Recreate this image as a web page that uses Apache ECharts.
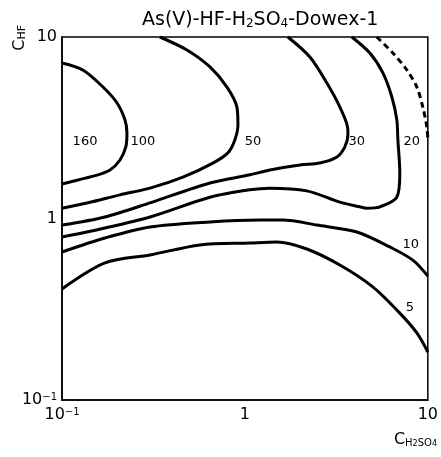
<!DOCTYPE html>
<html>
<head>
<meta charset="utf-8">
<script src="https://cdn.jsdelivr.net/npm/echarts@6/dist/echarts.min.js"></script>
<style>
  html, body { margin: 0; padding: 0; background: #fff; }
  #chart { width: 441px; height: 457px; }
</style>
</head>
<body>
<div id="chart"></div>
<script>
  // contour lines, [C_H2SO4, C_HF]
  var c100 = [[0.1, 7.19], [0.130, 6.58], [0.1675, 5.30], [0.200, 4.33], [0.221, 3.49], [0.2265, 2.96],
    [0.2233, 2.48], [0.2075, 2.10], [0.183, 1.85], [0.157, 1.74], [0.1223, 1.63], [0.1, 1.55]];
  var c50 = [[0.1, 1.14], [0.1387, 1.22], [0.2075, 1.35], [0.303, 1.47], [0.458, 1.69], [0.668, 2.02],
    [0.807, 2.30], [0.881, 2.71], [0.916, 3.27], [0.904, 4.11], [0.798, 5.30], [0.644, 6.84], [0.482, 8.48], [0.343, 10]];
  var c30 = [[0.1, 0.92], [0.1718, 1.02], [0.303, 1.22], [0.644, 1.57], [1.065, 1.74], [1.37, 1.85],
    [1.998, 1.97], [2.57, 2.02], [3.184, 2.18], [3.519, 2.48], [3.655, 2.88], [3.655, 3.07],
    [3.304, 4.11], [2.806, 5.58], [2.266, 7.76], [1.718, 10]];
  var c20 = [[0.1, 0.791], [0.1718, 0.887], [0.303, 1.02], [0.644, 1.31], [1.065, 1.44], [1.37, 1.47],
    [2.18, 1.42], [3.304, 1.23], [4.25, 1.16], [4.64, 1.14], [5.47, 1.16], [6.77, 1.31], [7.03, 1.78],
    [6.86, 2.71], [6.77, 3.49], [6.36, 4.67], [5.68, 6.34], [4.82, 8.16], [3.843, 10]];
  var c10 = [[0.1, 0.654], [0.1718, 0.781], [0.303, 0.898], [0.644, 0.957], [1.208, 0.98], [1.613, 0.98],
    [2.474, 0.92], [4.09, 0.843], [6.2, 0.697], [8.28, 0.59], [10, 0.482]];
  var c5 = [[0.1, 0.409], [0.1718, 0.569], [0.303, 0.63], [0.568, 0.715], [1.065, 0.733], [1.496, 0.742],
    [2.18, 0.679], [3.304, 0.554], [5.0, 0.42], [7.03, 0.301], [8.71, 0.234], [10, 0.184]];
  var cDash = [[5.26, 10], [6.44, 8.16], [7.68, 6.58], [8.71, 5.30], [9.39, 4.11], [9.88, 3.19], [10, 2.71]];

  var labelNames = ['160', '100', '50', '30', '20', '10', '5'];
  var labelPos = [[0.1336, 2.64], [0.277, 2.64], [1.106, 2.64], [4.09, 2.64], [8.18, 2.64], [8.07, 0.715], [7.97, 0.321]];

  var tickLabels = { '0.1': '10{sup|\u22121}', '1': '1', '10': '10' };

  var font = 'DejaVu Sans';

  function contour(data, dashed) {
    return {
      type: 'line',
      data: data,
      smooth: 0.3,
      symbol: 'none',
      silent: true,
      lineStyle: { color: '#000', width: 3, type: dashed ? [6, 4] : 'solid' }
    };
  }

  function tickFmt(v) {
    var k = Math.abs(v - 0.1) < 1e-6 ? '0.1' : (Math.abs(v - 1) < 1e-6 ? '1' : (Math.abs(v - 10) < 1e-6 ? '10' : ''));
    return tickLabels[k] || '';
  }

  var rich = {
    sup: { fontSize: 10, verticalAlign: 'top', fontFamily: font, color: '#000' }
  };

  var myChart = echarts.init(document.getElementById('chart'));
  myChart.setOption({
    animation: false,
    title: {
      text: 'As(V)-HF-H{sub|2}SO{sub|4}-Dowex-1',
      left: 137,
      top: 6,
      textStyle: {
        fontFamily: font, fontSize: 19, fontWeight: 'normal', color: '#000',
        rich: { sub: { fontSize: 12, verticalAlign: 'bottom', fontFamily: font, color: '#000', padding: [7, 0, 0, 0] } }
      }
    },
    grid: {
      left: 62, top: 37, width: 366, height: 363,
      show: true, borderColor: '#000', borderWidth: 1.5, backgroundColor: '#fff'
    },
    xAxis: {
      type: 'log',
      logBase: 10,
      min: 0.1,
      max: 10,
      axisLine: { show: true, lineStyle: { color: '#000', width: 1.5 } },
      axisTick: { show: false },
      minorTick: { show: false },
      splitLine: { show: false },
      axisLabel: {
        formatter: tickFmt, color: '#000', fontFamily: font, fontSize: 16, margin: 7,
        rich: rich
      }
    },
    yAxis: {
      type: 'log',
      logBase: 10,
      min: 0.1,
      max: 10,
      axisLine: { show: true, lineStyle: { color: '#000', width: 1.5 } },
      axisTick: { show: false },
      minorTick: { show: false },
      splitLine: { show: false },
      axisLabel: {
        formatter: tickFmt, color: '#000', fontFamily: font, fontSize: 16, margin: 5,
        rich: rich
      }
    },
    graphic: [
      {
        type: 'text',
        left: 12,
        top: 25,
        rotation: Math.PI / 2,
        style: {
          text: 'C{sub|HF}',
          fontFamily: font, fontSize: 16, fill: '#000',
          rich: { sub: { fontSize: 11, verticalAlign: 'bottom', fontFamily: font, fill: '#000' } }
        }
      },
      {
        type: 'text',
        right: 4,
        top: 432,
        style: {
          text: 'C{sub|H}{ss|2}{sub|SO}{ss|4}',
          fontFamily: font, fontSize: 16, fill: '#000',
          rich: {
            sub: { fontSize: 10, verticalAlign: 'bottom', fontFamily: font, fill: '#000' },
            ss: { fontSize: 8, verticalAlign: 'bottom', fontFamily: font, fill: '#000', padding: [4, 0, 0, 0] }
          }
        }
      }
    ],
    series: [
      contour(c100), contour(c50), contour(c30), contour(c20), contour(c10), contour(c5), contour(cDash, true),
      {
        type: 'scatter',
        symbolSize: 0,
        silent: true,
        itemStyle: { opacity: 1 },
        data: labelPos.map(function (p, i) { return { name: labelNames[i], value: p }; }),
        label: {
          show: true, position: 'inside', formatter: '{b}',
          color: '#000', fontFamily: font, fontSize: 13
        }
      }
    ]
  });
</script>
</body>
</html>
